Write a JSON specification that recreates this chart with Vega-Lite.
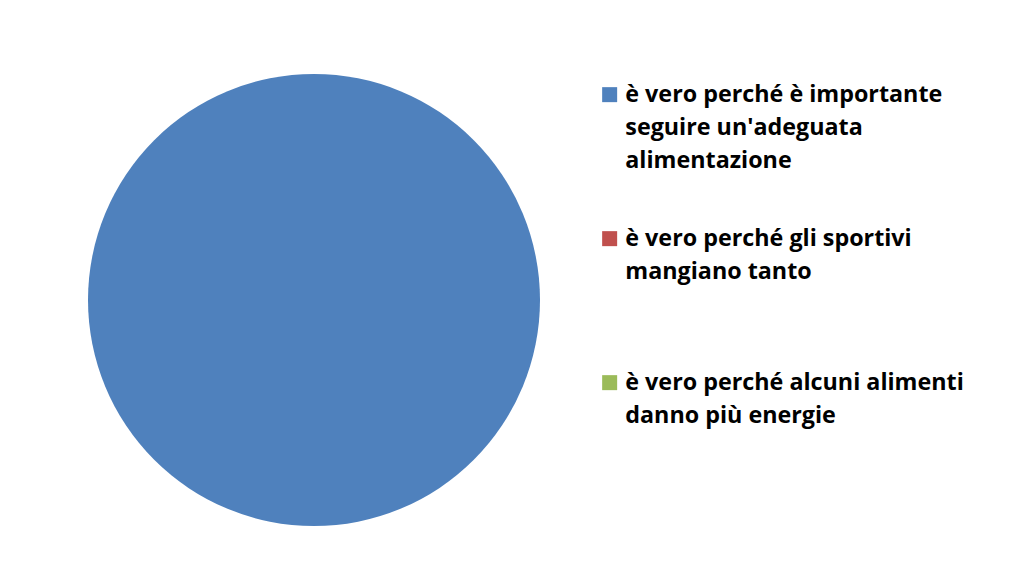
{
  "$schema": "https://vega.github.io/schema/vega-lite/v6.json",
  "width": 452,
  "height": 452,
  "padding": {"left": 88, "top": 74, "right": 10, "bottom": 10},
  "background": "white",
  "data": {
    "values": [
      {"risposta": "è vero perché è importante\nseguire un'adeguata\nalimentazione", "valore": 1},
      {"risposta": "\u00a0è vero perché gli sportivi\nmangiano tanto", "valore": 0},
      {"risposta": "\u00a0è vero perché alcuni alimenti\ndanno più energie", "valore": 0}
    ]
  },
  "mark": {"type": "arc"},
  "encoding": {
    "theta": {"field": "valore", "type": "quantitative", "stack": true},
    "color": {
      "field": "risposta",
      "type": "nominal",
      "scale": {
        "domain": [
          "è vero perché è importante\nseguire un'adeguata\nalimentazione",
          "\u00a0è vero perché gli sportivi\nmangiano tanto",
          "\u00a0è vero perché alcuni alimenti\ndanno più energie"
        ],
        "range": ["#4F81BD", "#C0504D", "#9BBB59"]
      },
      "legend": {
        "title": null,
        "orient": "none",
        "legendX": 510,
        "legendY": 9,
        "symbolType": "square",
        "symbolSize": 225,
        "symbolStrokeWidth": 0,
        "labelOffset": 4,
        "labelFont": "Open Sans",
        "labelFontWeight": "bold",
        "labelFontSize": 23.3,
        "labelColor": "#000000",
        "labelLimit": 0,
        "labelExpr": "slice(split(datum.label + '\\n\\n', '\\n'), 0, 3)",
        "rowPadding": 54
      }
    }
  },
  "config": {
    "view": {"stroke": null},
    "style": {"guide-label": {"lineHeight": 33}}
  }
}
